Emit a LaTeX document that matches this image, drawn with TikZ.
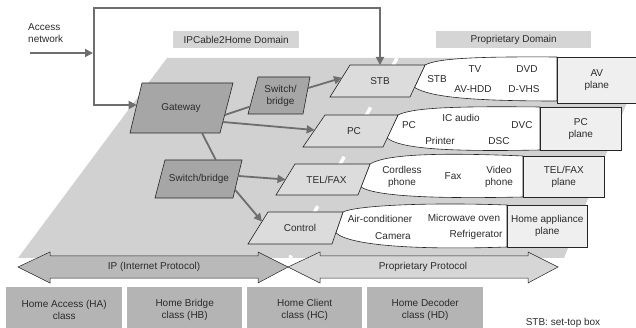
\documentclass[tikz,border=0pt]{standalone}
\usepackage{fontspec}
\setmainfont{Liberation Sans}
\usetikzlibrary{calc,arrows.meta}
\definecolor{bgg}{HTML}{D1D1D1}
\definecolor{darknode}{HTML}{A6A6A6}
\definecolor{lightnode}{HTML}{DCDCDC}
\definecolor{planefill}{HTML}{EFEFEF}
\definecolor{classfill}{HTML}{B4B4B4}
\definecolor{ipfill}{HTML}{B9B9B9}
\definecolor{propfill}{HTML}{D6D6D6}
\definecolor{domfill}{HTML}{D5D5D5}
\definecolor{connc}{HTML}{6E6E6E}
\definecolor{txtc}{HTML}{2B2B2B}
\definecolor{edgec}{HTML}{262626}
\newcommand\pgram[7]{%
  \coordinate (#1-tl) at (#2);
  \coordinate (#1-tr) at (#3);
  \coordinate (#1-br) at (#4);
  \coordinate (#1-bl) at (#5);
  \draw[pgline, fill=#6] (#1-tl) -- (#1-tr) -- (#1-br) -- (#1-bl) -- cycle;
  \node[txt] (#1) at ($(#1-tl)!0.5!(#1-br)$) {#7};
}
\begin{document}
\begin{tikzpicture}[x=1pt,y=-1pt,
  txt/.style={font=\fontsize{10}{12}\selectfont, text=txtc, inner sep=0pt, align=center},
  pgline/.style={draw=edgec, line width=0.6pt, line join=miter},
  conn/.style={draw=connc, line width=1.8pt},
  arr/.style={-{Triangle[length=8pt,width=8pt]}},
  lensline/.style={draw=edgec, line width=0.6pt, fill=white},
  plane/.style={txt, draw=edgec, line width=0.6pt, fill=planefill, anchor=north west, inner sep=0pt},
  domlab/.style={txt, fill=domfill, anchor=north west, inner sep=0pt},
  classbox/.style={txt, fill=classfill, anchor=north west, inner sep=0pt, minimum height=46pt},
  blockarrow/.style={draw=edgec, line width=0.5pt, line join=miter}
]
\useasboundingbox (0,0) rectangle (636,328);

% background area
\fill[bgg] (167,58) -- (645,58) -- (564,258) -- (18,258) -- cycle;
% white dashed separation stripe
\draw[white, line width=3.5pt, dash pattern=on 14pt off 14pt] (397,58) -- (290,258);

% domain labels
\node[domlab, minimum width=126pt, minimum height=17pt] (ipdom) at (173,31) {IPCable2Home Domain};
\node[domlab, minimum width=155pt, minimum height=17pt] (propdom) at (436,31) {Proprietary Domain};

% plane box corners (for the lens outlines)
\coordinate (avp-nw) at (557,57);   \coordinate (avp-sw) at (557,101);
\coordinate (pcp-nw) at (540,107);  \coordinate (pcp-sw) at (540,150);
\coordinate (telp-nw) at (523,156); \coordinate (telp-sw) at (523,197);
\coordinate (hap-nw) at (507,205);  \coordinate (hap-sw) at (507,247);

% lenses
\draw[lensline] (425,65) .. controls (438,58) and (480,56.5) .. (avp-nw)
  -- (avp-sw) .. controls (470,101) and (430,97) .. (414.5,87.4) -- cycle;
\draw[lensline] (398,115) .. controls (412,108) and (450,106) .. (pcp-nw)
  -- (pcp-sw) .. controls (440,152) and (400,148) .. (387,138) -- cycle;
\draw[lensline] (370,164) .. controls (385,155) and (430,152) .. (telp-nw)
  -- (telp-sw) .. controls (430,199) and (375,196) .. (361,187) -- cycle;
\draw[lensline] (343,212) .. controls (355,206) and (420,202) .. (hap-nw)
  -- (hap-sw) .. controls (420,250) and (350,246) .. (335.9,232.8) -- cycle;

% plane boxes
\node[plane, minimum width=79pt, minimum height=46pt] (avp) at (avp-nw) {AV\\plane};
\node[plane, minimum width=81pt, minimum height=43pt] (pcp) at (pcp-nw) {PC\\plane};
\node[plane, minimum width=81pt, minimum height=41pt] (telp) at (telp-nw) {TEL/FAX\\plane};
\node[plane, minimum width=80pt, minimum height=42pt] (hap) at (hap-nw) {Home appliance\\plane};

% parallelograms
\pgram{gw}{142,83}{233,83}{220,133}{130,133}{darknode}{Gateway}
\pgram{sw1}{258,77}{310,77}{303,114}{248,114}{darknode}{Switch/\\bridge}
\pgram{stb}{350,65}{425,65}{410,97}{330,97}{lightnode}{STB}
\pgram{pc}{325,115}{398,115}{383,147}{303,147}{lightnode}{PC}
\pgram{sw2}{165,160}{242,160}{233,198}{155,198}{darknode}{Switch/bridge}
\pgram{tel}{295,164}{370,164}{358,195}{276,195}{lightnode}{TEL/FAX}
\pgram{ctl}{268,212}{343,212}{332,244}{248,244}{lightnode}{Control}

% lens texts
\node[txt] (l1a) at (437,79) {STB};
\node[txt] (l1b) at (475,69) {TV};
\node[txt] (l1c) at (527,69) {DVD};
\node[txt] (l1d) at (473,89) {AV-HDD};
\node[txt] (l1e) at (524,89) {D-VHS};
\node[txt] (l2a) at (409,125) {PC};
\node[txt] (l2b) at (461,118) {IC audio};
\node[txt] (l2c) at (522,125) {DVC};
\node[txt] (l2d) at (440,141) {Printer};
\node[txt] (l2e) at (499,141) {DSC};
\node[txt] (l3a) at (402,177) {Cordless\\phone};
\node[txt] (l3b) at (453,176) {Fax};
\node[txt] (l3c) at (499,177) {Video\\phone};
\node[txt] (l4a) at (380,219) {Air-conditioner};
\node[txt] (l4b) at (464,218) {Microwave oven};
\node[txt] (l4c) at (393,236) {Camera};
\node[txt] (l4d) at (476,235) {Refrigerator};

% connectors
\draw[conn] ($(gw-tr)!0.64!(gw-br)$) -- ($(sw1-tl)!0.8!(sw1-bl)$);
\draw[conn, arr] ($(sw1-tr)!0.3!(sw1-br)$) -- ($(stb-tl)!0.4!(stb-bl)$);
\draw[conn, arr] ($(gw-tr)!0.78!(gw-br)$) -- ($(pc-tl)!0.47!(pc-bl)$);
\draw[conn] ($(gw-bl)!0.8!(gw-br)$) -- ($(sw2-tl)!0.66!(sw2-tr)$);
\draw[conn, arr] ($(sw2-tr)!0.42!(sw2-br)$) -- ($(tel-tl)!0.5!(tel-bl)$);
\draw[conn, arr] ($(sw2-tr)!0.78!(sw2-br)$) -- ($(ctl-tl)!0.3!(ctl-bl)$);

% access network
\node[txt, anchor=west, align=left] (accn) at (28,33) {Access\\network};
\coordinate (accstart) at (30,53);
\coordinate (accend) at (93,53);
\draw[conn, arr] (accstart) -- (accend);
\draw[conn, {Triangle[length=8pt,width=8pt]}-{Triangle[length=8pt,width=8pt]}]
  ($(gw-tl)!0.44!(gw-bl)$) -| (94,8) -| ($(stb-tl)!0.4!(stb-tr)$);

% protocol block arrows
\draw[blockarrow, fill=ipfill] (18,267) -- (50,252) -- (50,256) -- (258,256) -- (258,252) -- (288,267)
  -- (258,283) -- (258,278) -- (50,278) -- (50,283) -- cycle;
\draw[blockarrow, fill=propfill] (288,267) -- (320,252) -- (320,256) -- (528,256) -- (528,252) -- (558,267)
  -- (528,283) -- (528,278) -- (320,278) -- (320,283) -- cycle;
\node[txt] (ipp) at (154,267) {IP (Internet Protocol)};
\node[txt] (ppp) at (423,267) {Proprietary Protocol};

% class boxes
\node[classbox, minimum width=116pt] (ha) at (6,287) {Home Access (HA)\\class};
\node[classbox, minimum width=115pt] (hb) at (127,287) {Home Bridge\\class (HB)};
\node[classbox, minimum width=115pt] (hc) at (247,287) {Home Client\\class (HC)};
\node[classbox, minimum width=116pt] (hd) at (367,287) {Home Decoder\\class (HD)};

\node[txt] (stbnote) at (563,323) {STB: set-top box};
\end{tikzpicture}
\end{document}
